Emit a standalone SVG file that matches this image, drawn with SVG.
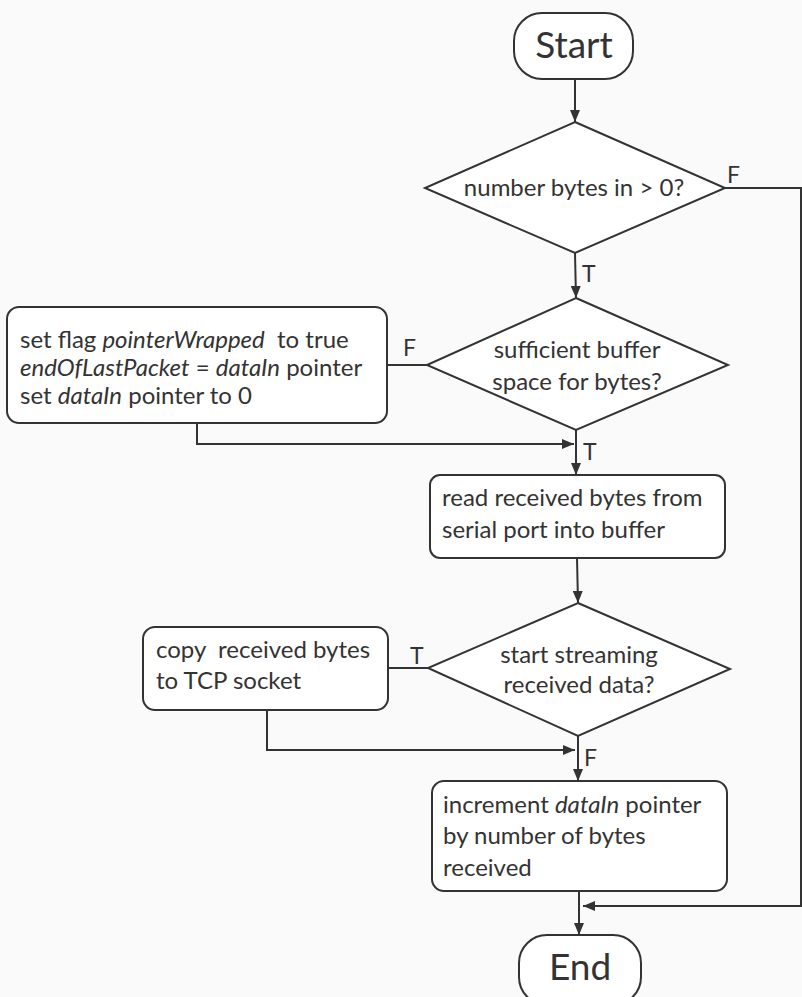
<svg xmlns="http://www.w3.org/2000/svg" width="802" height="997" viewBox="0 0 802 997">
<defs>
<marker id="ah" viewBox="0 0 12 10" refX="12" refY="5" markerWidth="12" markerHeight="10" markerUnits="userSpaceOnUse" orient="auto">
<path d="M0,0 L12,5 L0,10 Z" fill="#333"/>
</marker>
<style>
.s{fill:#fff;stroke:#333;stroke-width:2}
.t{font-family:Lato,"Liberation Sans",sans-serif;font-size:24px;fill:#333}
.c{text-anchor:middle}
.big{font-size:37px}
.lb{font-family:Lato,"Liberation Sans",sans-serif;font-size:23px;fill:#333}
.ln{fill:none;stroke:#333;stroke-width:2}
</style>
</defs>
<rect width="802" height="997" fill="#fafafa"/>
<g id="connectors">
<line class="ln" x1="575" y1="79" x2="575" y2="122" marker-end="url(#ah)"/>
<line class="ln" x1="575" y1="253" x2="576" y2="298" marker-end="url(#ah)"/>
<polyline class="ln" points="725,188 801,188 801,906 583,906" marker-end="url(#ah)"/>
<line class="ln" x1="387" y1="365" x2="427" y2="365"/>
<polyline class="ln" points="197,423 197,444 574,444" marker-end="url(#ah)"/>
<line class="ln" x1="576" y1="430" x2="576" y2="475" marker-end="url(#ah)"/>
<line class="ln" x1="577" y1="558" x2="578" y2="603" marker-end="url(#ah)"/>
<line class="ln" x1="388" y1="668" x2="428" y2="668"/>
<polyline class="ln" points="267,710 267,750 575,750" marker-end="url(#ah)"/>
<line class="ln" x1="578" y1="736" x2="578" y2="781" marker-end="url(#ah)"/>
<line class="ln" x1="579" y1="891" x2="579" y2="935" marker-end="url(#ah)"/>
<text class="lb" x="727" y="183">F</text>
<text class="lb" x="582" y="282">T</text>
<text class="lb" x="403" y="356">F</text>
<text class="lb" x="583" y="460">T</text>
<text class="lb" x="410" y="664">T</text>
<text class="lb" x="584" y="766">F</text>
</g>
<g id="start">
<rect class="s" x="514" y="13" width="119" height="66" rx="28"/>
<text class="t c big" x="574" y="58">Start</text>
</g>
<g id="dec1">
<polygon class="s" points="575,122 725,188 575,253 425,188"/>
<text class="t c" x="574" y="196">number bytes in &gt; 0?</text>
</g>
<g id="dec2">
<polygon class="s" points="576,298 728,365 576,430 427,365"/>
<text class="t c" x="577" y="358">sufficient buffer</text>
<text class="t c" x="577" y="390">space for bytes?</text>
</g>
<g id="wrap">
<rect class="s" x="7" y="307" width="380" height="116" rx="12"/>
<text class="t" x="20" y="348">set flag <tspan font-style="italic">pointerWrapped</tspan>&#160; to true</text>
<text class="t" x="20" y="376"><tspan font-style="italic">endOfLastPacket</tspan> = <tspan font-style="italic">dataIn</tspan> pointer</text>
<text class="t" x="20" y="404">set <tspan font-style="italic">dataIn</tspan> pointer to 0</text>
</g>
<g id="read">
<rect class="s" x="430" y="475" width="295" height="83" rx="10"/>
<text class="t" x="442" y="506">read received bytes from</text>
<text class="t" x="442" y="538">serial port into buffer</text>
</g>
<g id="dec3">
<polygon class="s" points="578,603 730,669 578,736 428,668"/>
<text class="t c" x="579" y="663">start streaming</text>
<text class="t c" x="579" y="693">received data?</text>
</g>
<g id="copy">
<rect class="s" x="143" y="627" width="245" height="83" rx="12"/>
<text class="t" x="156" y="658">copy&#160; received bytes</text>
<text class="t" x="156" y="689">to TCP socket</text>
</g>
<g id="incr">
<rect class="s" x="432" y="781" width="295" height="110" rx="12"/>
<text class="t" x="443" y="813">increment <tspan font-style="italic">dataIn</tspan> pointer</text>
<text class="t" x="443" y="844">by number of bytes</text>
<text class="t" x="443" y="876">received</text>
</g>
<g id="end">
<rect class="s" x="519" y="935" width="122" height="70" rx="28"/>
<text class="t c big" x="580" y="980">End</text>
</g>
</svg>
